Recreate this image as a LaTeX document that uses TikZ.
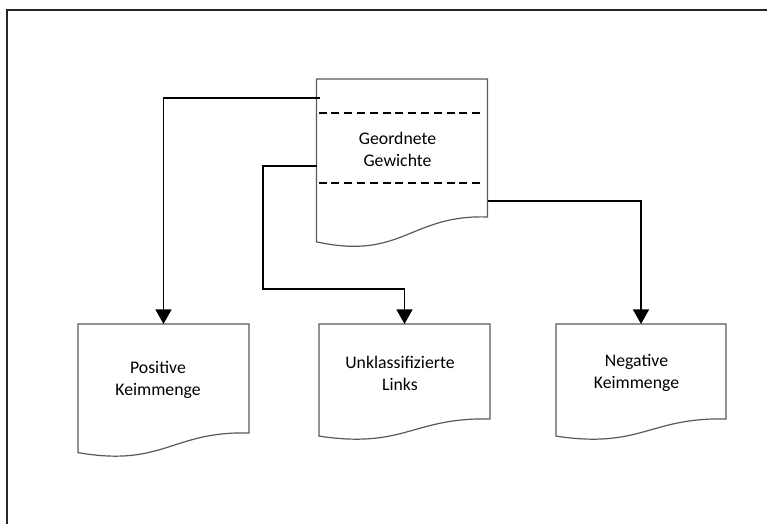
\documentclass[tikz,border=0pt]{standalone}
\usepackage{fontspec}
\setmainfont{Carlito}
\usetikzlibrary{calc,arrows.meta}

% Document shape: flat top, wavy bottom edge that dips towards the left
\newcommand\docoutline[1]{%
  \draw[docline] let \p1=(#1.north west), \p2=(#1.south east),
      \n1={\x2-\x1}, \n2={\y1-\y2} in
    (\p1) -- (\x2,\y1) -- (\p2)
    .. controls (\x2-0.45*\n1,\y2+0.02*\n2) and (\x1+0.5*\n1,\y2-0.316*\n2)
    .. (\x1,\y2-0.18*\n2) -- cycle;}

\begin{document}
\begin{tikzpicture}[x=0.75pt,y=-0.75pt,
  docbox/.style={rectangle,draw=none,inner sep=0pt,outer sep=0pt},
  docline/.style={draw=black!65,line width=0.9pt,fill=white},
  doctext/.style={align=center,font=\fontsize{13.3pt}{16.5pt}\selectfont},
  conn/.style={draw=black,line width=1.3pt,-{Triangle[length=11pt,width=12pt]}},
  link/.style={draw=black,line width=1.3pt},
  dashline/.style={draw=black,line width=1.1pt,dash pattern=on 6pt off 3.6pt},
  frame/.style={draw=black!85,line width=0.8pt}]
\useasboundingbox (0,0) rectangle (767,524);

% outer frame
\draw[frame] (7,524) -- (7,10) -- (767,10);

% boxes
\node[docbox,minimum width=128.25pt,minimum height=103.5pt] (weights) at (402,148) {};
\node[docbox,minimum width=128.25pt,minimum height=81.75pt] (positive) at (163.5,378.5) {};
\node[docbox,minimum width=128.25pt,minimum height=71.25pt] (unclass) at (404.5,371.5) {};
\node[docbox,minimum width=127.5pt,minimum height=71.25pt] (negative) at (641,371.5) {};

\docoutline{weights}
\docoutline{positive}
\docoutline{unclass}
\docoutline{negative}

% dashed separators inside the sorted-weights document
\draw[dashline] ($(weights.north west)+(2,34)$) -- ($(weights.north east)+(-5,34)$);
\draw[dashline] ($(weights.north west)+(2,104)$) -- ($(weights.north east)+(-5,104)$);

% labels
\node[doctext] (weights-label) at ($(weights.center)+(-4.5,1.5)$) {Geordnete\\Gewichte};
\node[doctext] (positive-label) at ($(positive.center)+(-5.5,1)$) {Positive\\Keimmenge};
\node[doctext] (unclass-label) at ($(unclass.center)+(-4.5,1.5)$) {Unklassifizierte\\Links};
\node[doctext] (negative-label) at ($(negative.center)+(-4.5,1.5)$) {Negative\\Keimmenge};

% connectors
\draw[conn] ($(weights.north west)+(3,19)$) -| (positive.north);
\coordinate (bend) at ($(unclass.north)+(-141.5,-35)$);
\draw[conn] ($(weights.north west)+(0,87)$) -| (bend) -| (unclass.north);
\draw[conn] ($(weights.north east)+(0,122)$) -| (negative.north);
\end{tikzpicture}
\end{document}
